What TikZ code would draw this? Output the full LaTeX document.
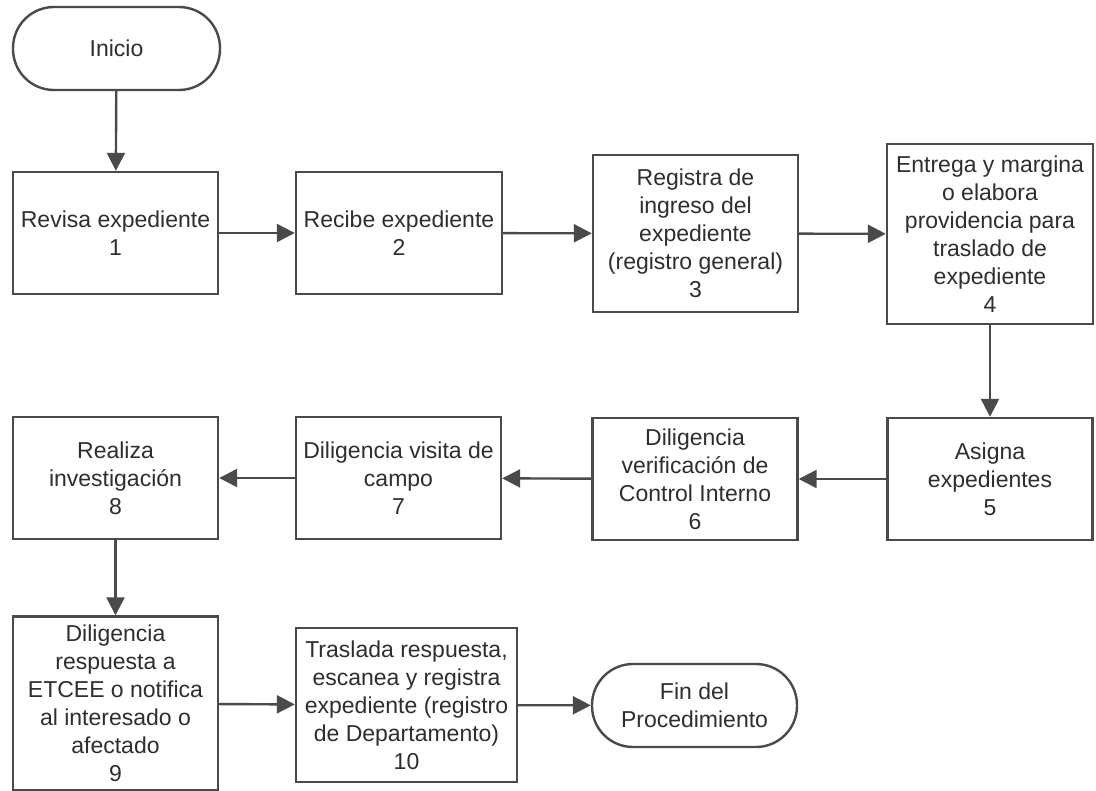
\documentclass[tikz,border=0pt]{standalone}
\usepackage{fontspec}
\setmainfont{Liberation Sans}
\usetikzlibrary{arrows.meta}
\definecolor{linea}{HTML}{4A4A4A}
\definecolor{texto}{HTML}{2E2E2E}
\tikzset{
  paso/.style={draw=linea, line width=1.2pt, fill=white, text=texto, align=center,
    minimum width=102.5pt, minimum height=61pt, inner sep=1pt,
    font=\fontsize{11.5}{14}\selectfont},
  terminal/.style={paso, rounded corners=20.5pt, minimum height=41.5pt},
  flecha/.style={draw=linea, line width=1.2pt, -{Triangle[length=9pt,width=9pt]}},
}
\begin{document}
\begin{tikzpicture}[x=0.5pt,y=-0.5pt]
    \useasboundingbox (0,0) rectangle (1096,791);

    \node[terminal, minimum width=103.5pt] (inicio) at (116.5,48.5) {Inicio};

    \node[paso] (p1) at (115.5,233) {Revisa expediente\\1};
    \node[paso, minimum width=103pt] (p2) at (399,233) {Recibe expediente\\2};
    \node[paso, minimum height=78.5pt] (p3) at (695.5,233.5)
      {Registra de\\ingreso del\\expediente\\(registro general)\\3};
    \node[paso, minimum width=103pt, minimum height=90pt] (p4) at (990,234)
      {Entrega y margina\\o elabora\\providencia para\\traslado de\\expediente\\4};

    \node[paso] (p5) at (990,479) {Asigna\\expedientes\\5};
    \node[paso] (p6) at (695,479) {Diligencia\\verificación de\\Control Interno\\6};
    \node[paso] (p7) at (398.5,478) {Diligencia visita de\\campo\\7};
    \node[paso] (p8) at (115.5,478) {Realiza\\investigación\\8};

    \node[paso, minimum height=87pt] (p9) at (115.5,703.5)
      {Diligencia\\respuesta a\\ETCEE o notifica\\al interesado o\\afectado\\9};
    \node[paso, minimum width=110.5pt, minimum height=77pt] (p10) at (406.5,705)
      {Traslada respuesta,\\escanea y registra\\expediente (registro\\de Departamento)\\10};
    \node[terminal] (fin) at (694.5,705.5) {Fin del\\Procedimiento};

    \draw[flecha] (inicio) -- (p1);
    \draw[flecha] (p1) -- (p2);
    \draw[flecha] (p2) -- (p3);
    \draw[flecha] (p3) -- (p4);
    \draw[flecha] (p4) -- (p5);
    \draw[flecha] (p5) -- (p6);
    \draw[flecha] (p6) -- (p7);
    \draw[flecha] (p7) -- (p8);
    \draw[flecha] (p8) -- (p9);
    \draw[flecha] (p9) -- (p10);
    \draw[flecha] (p10) -- (fin);
  \end{tikzpicture}
\end{document}
